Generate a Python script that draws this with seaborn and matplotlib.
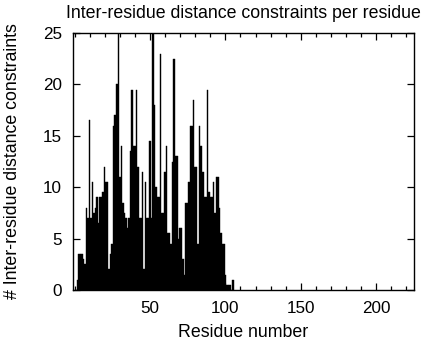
import matplotlib
matplotlib.use("Agg")
import matplotlib.pyplot as plt
from matplotlib.ticker import MultipleLocator
import seaborn as sns
import pandas as pd

# Number of inter-residue distance constraints for residues 1..105
residues = list(range(1, 106))
constraints = [
    0, 1, 3.5, 3.5, 3.5, 3, 2.5, 8, 7, 16.5,
    7, 10.5, 7.5, 8, 9, 6.5, 9, 9, 9.5, 12,
    10.5, 10.5, 2, 3.5, 4.5, 16, 17, 20, 26, 11,
    14, 8.5, 7.5, 7, 6, 7, 13.5, 19.5, 14, 14,
    19.5, 12, 7, 7, 11.5, 2, 10.5, 7, 7, 14.5,
    7, 26, 18, 10, 9, 9, 23, 7.5, 7.5, 11.5,
    14, 5.5, 5.5, 4.5, 12.5, 22.5, 13, 13, 5, 6,
    6, 3, 1.5, 8.5, 8.5, 10.5, 16, 16, 18.5, 12,
    12, 4.5, 16, 14, 11.5, 9, 9, 19.5, 9.5, 9,
    9, 10.5, 7.5, 11, 11, 8, 5.5, 4.5, 4.5, 1.5,
    0.5, 0.5, 0.5, 0, 1,
]

x_major_ticks = [50, 100, 150, 200]
y_major_ticks = [0, 5, 10, 15, 20, 25]

df = pd.DataFrame({"residue": residues, "count": constraints})

sns.set_style("ticks")
plt.rcParams["font.family"] = ["Liberation Sans", "DejaVu Sans"]
plt.rcParams["text.color"] = "black"
plt.rcParams["axes.labelcolor"] = "black"
plt.rcParams["xtick.color"] = "black"
plt.rcParams["ytick.color"] = "black"

fig = plt.figure(figsize=(4.24, 3.44), dpi=100)
ax = fig.add_axes([73 / 424, 1 - 290 / 344, (414 - 73) / 424, (290 - 33) / 344])

sns.barplot(data=df, x="residue", y="count", native_scale=True,
            color="black", saturation=1, width=1.0,
            edgecolor="black", linewidth=0.3, ax=ax)

ax.set_xlim(-1, 225)
ax.set_ylim(0, 25)
ax.set_xticks(x_major_ticks)
ax.set_xticklabels([str(t) for t in x_major_ticks])
ax.xaxis.set_minor_locator(MultipleLocator(10))
ax.set_yticks(y_major_ticks)
ax.set_yticklabels([str(t) for t in y_major_ticks])

ax.tick_params(which="both", direction="in", top=True, right=True,
               color="black", labelcolor="black", width=0.9, labelsize=12.3)
ax.tick_params(which="major", length=5, pad=8)
ax.tick_params(which="minor", length=3)
for s in ax.spines.values():
    s.set_linewidth(1.0)
    s.set_color("black")
    s.set_visible(True)

ax.set_xlabel("Residue number", fontsize=12.8, labelpad=6)
ax.set_ylabel("# Inter-residue distance constraints", fontsize=12.8, labelpad=16)
ax.set_title("Inter-residue distance constraints per residue", fontsize=12.8, pad=11)

fig.savefig("out.png", dpi=100)
